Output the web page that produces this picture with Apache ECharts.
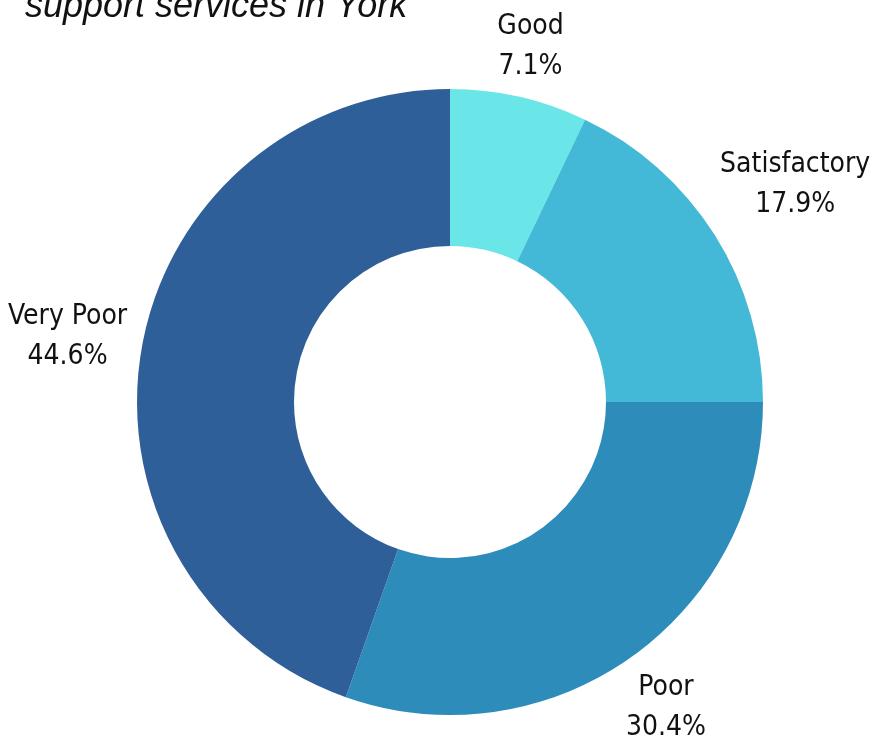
<!DOCTYPE html>
<html>
<head>
<meta charset="utf-8">
<script src="https://cdn.jsdelivr.net/npm/echarts@6/dist/echarts.min.js"></script>
<style>
  html, body { margin: 0; padding: 0; background: #fff; }
  #chart { width: 870px; height: 745px; }
</style>
</head>
<body>
<div id="chart"></div>
<script>
const categories = ['Good', 'Satisfactory', 'Poor', 'Very Poor'];
const shares = [7.1, 17.9, 30.4, 44.6];
const colors = ['#6ae5e8', '#43b8d7', '#2e8cbb', '#2f5f98'];
const titleText = 'support services in York';

const center = [450, 402];
const radius = [156, 313];
const labelRadius = [364, 408, 374, 388];

const total = shares.reduce((a, b) => a + b, 0);
const midAngles = [];
let cum = 0;
shares.forEach(v => {
  midAngles.push((cum + v / 2) / total * 360);
  cum += v;
});

const chart = echarts.init(document.getElementById('chart'));
chart.setOption({
  backgroundColor: '#fff',
  animation: false,
  graphic: [{
    type: 'text',
    left: 25,
    top: -11,
    style: {
      text: titleText,
      font: 'italic 36px "Liberation Sans", Arial, sans-serif',
      fill: '#111'
    }
  }],
  series: [{
    type: 'pie',
    center: center,
    radius: radius,
    startAngle: 90,
    clockwise: true,
    data: categories.map((name, i) => ({
      name: name,
      value: shares[i],
      itemStyle: { color: colors[i] }
    })),
    label: {
      show: true,
      position: 'outside',
      overflow: 'none',
      formatter: p => p.name + '\n' + p.value.toFixed(1) + '%',
      fontFamily: '"Liberation Sans Narrow", "DejaVu Sans Condensed", sans-serif',
      fontSize: 28,
      lineHeight: 40,
      color: '#111',
      align: 'center'
    },
    labelLine: { show: false },
    labelLayout: params => {
      const i = params.dataIndex;
      const a = midAngles[i] * Math.PI / 180;
      const r = labelRadius[i];
      return {
        x: center[0] + r * Math.sin(a),
        y: center[1] - r * Math.cos(a),
        align: 'center',
        verticalAlign: 'middle'
      };
    }
  }]
});
</script>
</body>
</html>
